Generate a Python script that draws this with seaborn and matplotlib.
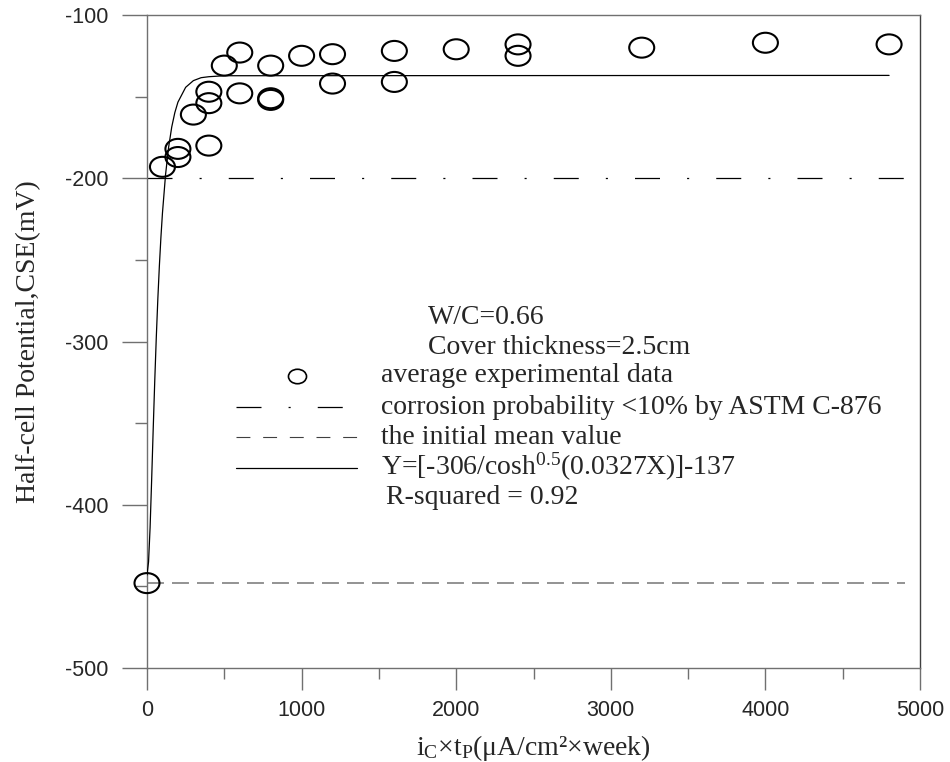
import numpy as np
import pandas as pd
import matplotlib
matplotlib.use("Agg")
import matplotlib.pyplot as plt
import seaborn as sns
from matplotlib.path import Path
from matplotlib.markers import MarkerStyle
from matplotlib.lines import Line2D

# ---------------- data ----------------
exp_x = [0, 100, 200, 200, 300, 400, 400, 400, 500, 600, 600, 800, 800, 800,
         1000, 1200, 1200, 1600, 1600, 2000, 2400, 2400, 3200, 4000, 4800]
exp_y = [-448, -193, -182, -187, -161, -147, -154, -180, -131, -123, -148, -131,
         -151, -152, -125, -124, -142, -122, -141, -121, -118, -125, -120, -117, -118]

fit_x = [0, 10, 20, 30, 40, 50, 60, 70, 80, 90, 100, 120, 140, 160, 180, 200,
         250, 300, 350, 400, 500, 4800]
fit_y = [-443, -435, -414, -385, -354, -324.5, -297.7, -274.1, -253.7, -236.2,
         -221.3, -197.8, -180.9, -168.6, -159.8, -153.4, -144.3, -140.2, -138.4,
         -137.8, -137.2, -137]

ref_x = [0, 4900]
astm_y = [-200, -200]
init_y = [-448, -448]

x_ticks = [0, 1000, 2000, 3000, 4000, 5000]
y_ticks = [-500, -400, -300, -200, -100]

legend_labels = ["average experimental data",
                 "corrosion probability <10% by ASTM C-876",
                 "the initial mean value",
                 "Y=[-306/cosh$^{0.5}$(0.0327X)]-137"]

# ---------------- style ----------------
sns.set_style("ticks")
plt.rcParams["font.family"] = ["Liberation Serif", "DejaVu Serif"]
plt.rcParams["mathtext.fontset"] = "custom"
plt.rcParams["mathtext.rm"] = "Liberation Serif"
plt.rcParams["mathtext.it"] = "Liberation Serif:italic"
plt.rcParams["mathtext.default"] = "regular"
plt.rcParams["lines.scale_dashes"] = False
plt.rcParams["axes.unicode_minus"] = False

fig = plt.figure(figsize=(9.5, 7.62), dpi=100)
ax = fig.add_axes([147/950, 1 - 668/762, (920-147)/950, (668-15)/762])

ell = Path.unit_circle().transformed(matplotlib.transforms.Affine2D().scale(1.0, 0.8))
ell_marker = MarkerStyle(ell)

df_exp = pd.DataFrame({"x": exp_x, "y": exp_y})
df_fit = pd.DataFrame({"x": fit_x, "y": fit_y})
df_astm = pd.DataFrame({"x": ref_x, "y": astm_y})
df_init = pd.DataFrame({"x": ref_x, "y": init_y})

sns.lineplot(data=df_init, x="x", y="y", ax=ax, color="#808080", lw=1.2,
             linestyle=(0, (12.2, 5.8)), zorder=2)
sns.lineplot(data=df_astm, x="x", y="y", ax=ax, color="black", lw=0.9,
             linestyle=(0, (18, 19.5, 1.5, 19.5)), zorder=2)
sns.lineplot(data=df_fit, x="x", y="y", ax=ax, color="black", lw=0.9, zorder=3,
             sort=False, estimator=None)
sns.scatterplot(data=df_exp, x="x", y="y", ax=ax, marker=ell_marker, s=18**2,
                facecolor="none", edgecolor="black", linewidth=1.5, zorder=4,
                clip_on=False)

ax.set_xlim(0, 5000)
ax.set_ylim(-500, -100)
ax.set_xticks(x_ticks)
ax.set_yticks(y_ticks)
ax.set_xticks(np.arange(500, 5000, 1000), minor=True)
ax.set_yticks(np.arange(-450, -100, 100), minor=True)
tick_col = "#707070"
ax.tick_params(axis="y", which="major", length=18, width=1, color=tick_col,
               direction="out", labelsize=15.5, pad=10)
ax.tick_params(axis="y", which="minor", length=8.6, width=1, color=tick_col,
               direction="out")
ax.tick_params(axis="x", which="major", length=16, width=1, color=tick_col,
               direction="out", labelsize=15.5, pad=7)
ax.tick_params(axis="x", which="minor", length=8, width=1, color=tick_col,
               direction="out")
for lab in ax.get_xticklabels() + ax.get_yticklabels():
    lab.set_fontfamily("Liberation Sans")
for sp in ax.spines.values():
    sp.set_visible(True)
    sp.set_color(tick_col)
    sp.set_linewidth(1.0)
ax.spines["right"].set_color("#404040")

ax.set_xlabel("i$_\\mathregular{C}$×t$_\\mathregular{P}$(μA/cm²×week)", fontsize=20, labelpad=9)
ax.set_ylabel("Half-cell Potential,CSE(mV)", fontsize=20, labelpad=17)

# ---------------- legend block ----------------
def px(xp, yp):
    return (xp - 147) / (920 - 147), (668 - yp) / (668 - 15)

tfs = 20
ax.text(*px(428, 317), "W/C=0.66", transform=ax.transAxes, fontsize=tfs, va="center")
ax.text(*px(428, 347), "Cover thickness=2.5cm", transform=ax.transAxes, fontsize=tfs, va="center")

ax.add_line(Line2D([px(297, 376)[0]], [px(297, 376)[1]], transform=ax.transAxes,
                   marker=ell_marker, markersize=13, mfc="none", mec="black", mew=1.2, ls="none"))
ax.add_line(Line2D([px(236, 407)[0], px(357, 407)[0]], [px(236, 407)[1]] * 2,
                   transform=ax.transAxes, color="black", lw=0.9,
                   linestyle=(0, (18, 19.5, 1.5, 19.5))))
ax.add_line(Line2D([px(236, 437)[0], px(357, 437)[0]], [px(236, 437)[1]] * 2,
                   transform=ax.transAxes, color="#404040", lw=0.8,
                   linestyle=(0, (10, 9.2))))
ax.add_line(Line2D([px(236, 468)[0], px(357, 468)[0]], [px(236, 468)[1]] * 2,
                   transform=ax.transAxes, color="black", lw=0.9))

for yp, lab in zip([376, 407, 437, 467], legend_labels):
    ax.text(*px(381, yp), lab, transform=ax.transAxes, fontsize=tfs, va="center")
ax.text(*px(386, 498), "R-squared = 0.92", transform=ax.transAxes, fontsize=tfs, va="center")

if ax.get_legend() is not None:
    ax.get_legend().remove()

fig.savefig("out.png", dpi=100)
